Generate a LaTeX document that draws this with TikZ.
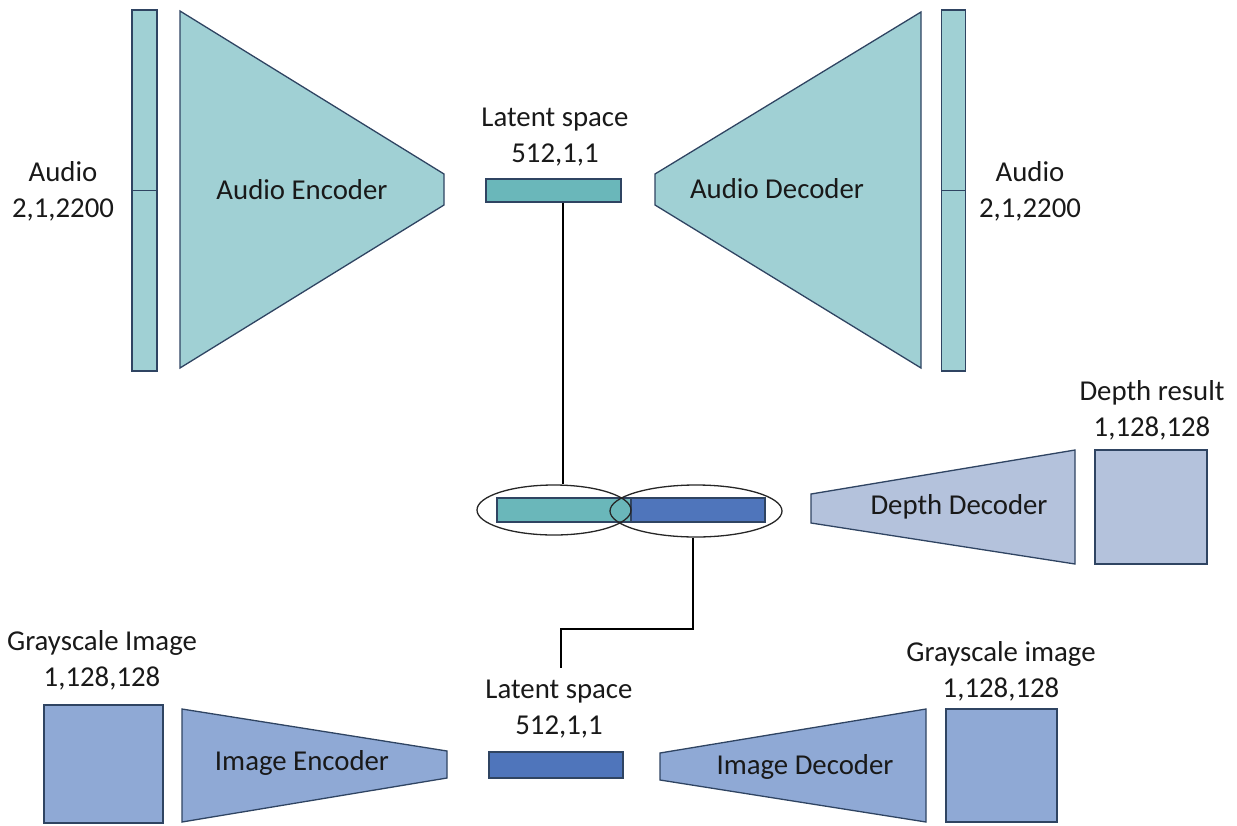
\documentclass[tikz,border=0pt]{standalone}
\usepackage{fontspec}
\setmainfont{Carlito}
\usetikzlibrary{shapes.geometric,calc}
\definecolor{edge}{HTML}{2F4462}
\definecolor{audiofill}{HTML}{A0D0D4}
\definecolor{latentteal}{HTML}{6AB7BA}
\definecolor{latentblue}{HTML}{4F75BB}
\definecolor{imagefill}{HTML}{8FA9D5}
\definecolor{depthfill}{HTML}{B4C2DC}
\begin{document}
\begin{tikzpicture}[x=1pt,y=-1pt,
  outline/.style={draw=edge,line width=1.3pt},
  block/.style 2 args={rectangle,outline,inner sep=0pt,minimum width=#1,minimum height=#2},
  label/.style={font=\fontsize{28.8}{36}\selectfont,align=center,inner sep=0pt,text=black!90},
  ring/.style 2 args={ellipse,draw=black!85,line width=1.3pt,inner sep=0pt,minimum width=#1,minimum height=#2},
  link/.style={draw=black,line width=1.4pt}]
\useasboundingbox (0,0) rectangle (1237,825);

% ---- audio branch ----
\node[block={25pt}{361pt},fill=audiofill] (ain) at (144.5,190.5) {};
\draw[outline] (ain.west) -- (ain.east);
\path[outline,fill=audiofill] (180,11) -- (444,174) -- (444,205) -- (180,368) -- cycle;
\node[label] (aenc) at (302,190) {Audio Encoder};
\node[label] (ainlbl) at (63,191.5) {Audio\\2,1,2200};

\node[block={135pt}{23pt},fill=latentteal] (lat1) at (553.5,190.5) {};
\node[label] (lat1lbl) at (555,137) {Latent space\\512,1,1};

\path[outline,fill=audiofill] (655,174) -- (921,12) -- (921,368) -- (655,205) -- cycle;
\node[label] (adec) at (777,189) {Audio Decoder};
\node[block={24pt}{361pt},fill=audiofill] (aout) at (953.5,190.5) {};
\draw[outline] (aout.west) -- (aout.east);
\node[label] (aoutlbl) at (1030,191) {Audio\\2,1,2200};

% ---- joined latent code ----
\node[block={134pt}{24pt},fill=latentteal] (zaudio) at (564,510) {};
\node[block={134pt}{24pt},fill=latentblue] (zimage) at (698,510) {};
\node[ring={154pt}{50pt}] (ellL) at (554,510) {};
\node[ring={172pt}{52pt}] (ellR) at (696,511) {};

% ---- depth branch ----
\path[outline,fill=depthfill] (811,494) -- (1075,450) -- (1075,564) -- (811,523) -- cycle;
\node[label] (ddec) at (959,507) {Depth Decoder};
\node[block={112pt}{114pt},fill=depthfill] (dout) at (1151,507) {};
\node[label] (doutlbl) at (1152,410) {Depth result\\1,128,128};

% ---- image branch ----
\node[block={119pt}{118pt},fill=imagefill] (gin) at (103.5,764) {};
\node[label] (ginlbl) at (102,660) {Grayscale Image\\1,128,128};
\path[outline,fill=imagefill] (182,709) -- (447,751) -- (447,778) -- (182,822) -- cycle;
\node[label] (ienc) at (302,763) {Image Encoder};

\node[block={134pt}{26pt},fill=latentblue] (lat2) at (556,765) {};
\node[label] (lat2lbl) at (559,709.5) {Latent space\\512,1,1};

\path[outline,fill=imagefill] (660,753) -- (926,709) -- (926,822) -- (660,780) -- cycle;
\node[label] (idec) at (805,767) {Image Decoder};
\node[block={111pt}{113pt},fill=imagefill] (gout) at (1001.5,765.5) {};
\node[label] (goutlbl) at (1001,671.5) {Grayscale image\\1,128,128};

% ---- connectors ----
\coordinate (turn) at (561,629);
\coordinate (cend) at (561,668);
\draw[link] ([xshift=9.5pt]lat1.south) -- ([xshift=9.5pt]lat1.south |- ellL.north);
\draw[link] ([xshift=-3pt]ellR.south) |- (turn) -- (cend);
\end{tikzpicture}
\end{document}
